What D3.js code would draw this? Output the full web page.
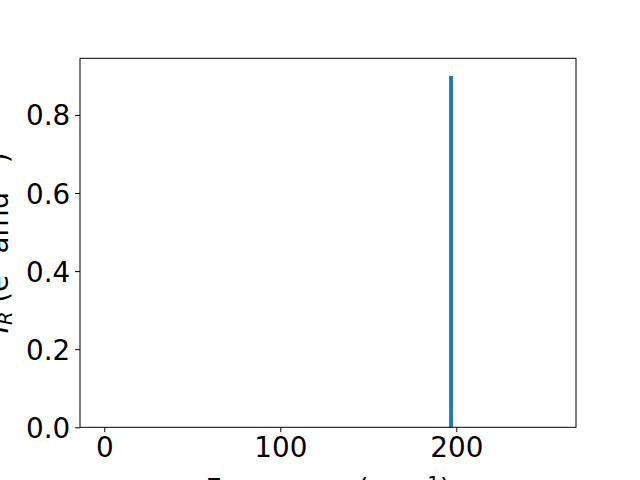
<!DOCTYPE html>
<html>
<head>
<meta charset="utf-8">
<script src="https://cdn.jsdelivr.net/npm/d3@7"></script>
<style>
  html, body { margin: 0; padding: 0; background: #fff; }
  svg text { font-family: "DejaVu Sans", sans-serif; }
</style>
</head>
<body>
<div id="chart"></div>
<script>
// data
const frequencies = [197];
const intensities = [0.9];
const barWidth = 2.2;
const xTicks = [0, 100, 200];
const yTicks = [0.0, 0.2, 0.4, 0.6, 0.8];
const xLimits = [-13.8, 268];
const yLimits = [0, 0.945];

const width = 640, height = 480;
const margin = { left: 80, right: 64, top: 58.3, bottom: 52.7 };
const fontSize = 27.8;

const svg = d3.select('#chart').append('svg')
  .attr('width', width)
  .attr('height', height)
  .attr('viewBox', [0, 0, width, height]);

const x = d3.scaleLinear().domain(xLimits).range([margin.left, width - margin.right]);
const y = d3.scaleLinear().domain(yLimits).range([height - margin.bottom, margin.top]);

// ------------------------------------------------------------------ BARS
svg.append('g')
  .selectAll('rect')
  .data(frequencies.map((f, i) => ({ f, v: intensities[i] })))
  .join('rect')
  .attr('x', d => x(d.f - barWidth / 2))
  .attr('width', d => x(d.f + barWidth / 2) - x(d.f - barWidth / 2))
  .attr('y', d => y(d.v))
  .attr('height', d => y(0) - y(d.v))
  .attr('fill', '#1f77b4');

// ------------------------------------------------------------------ AXES
const xAxis = svg.append('g')
  .attr('transform', `translate(0,${height - margin.bottom})`)
  .call(d3.axisBottom(x).tickValues(xTicks).tickFormat(d3.format('d'))
    .tickSize(4.9).tickPadding(4.9));

const yAxis = svg.append('g')
  .attr('transform', `translate(${margin.left},0)`)
  .call(d3.axisLeft(y).tickValues(yTicks).tickFormat(d3.format('.1f'))
    .tickSize(4.9).tickPadding(4.9));

[xAxis, yAxis].forEach(g => {
  g.select('.domain').remove();
  g.selectAll('line').attr('stroke', '#000').attr('stroke-width', 1);
  g.selectAll('text')
    .attr('fill', '#000')
    .style('font-family', '"DejaVu Sans", sans-serif')
    .style('font-size', fontSize + 'px');
});
xAxis.selectAll('text').attr('dy', '0.73em');
yAxis.selectAll('text').attr('dy', '0.36em');

// frame
svg.append('rect')
  .attr('x', margin.left)
  .attr('y', margin.top)
  .attr('width', width - margin.left - margin.right)
  .attr('height', height - margin.top - margin.bottom)
  .attr('fill', 'none')
  .attr('stroke', '#000')
  .attr('stroke-width', 1);

// ------------------------------------------------------------------ LABELS
const xl = svg.append('text')
  .attr('x', (margin.left + width - margin.right) / 2)
  .attr('y', 498.5)
  .attr('text-anchor', 'middle')
  .style('font-size', fontSize + 'px');
xl.append('tspan').text('Frequency (cm');
xl.append('tspan').attr('baseline-shift', '45%').style('font-size', '70%').text('\u22121');
xl.append('tspan').text(')');

const yl = svg.append('text')
  .attr('transform', `translate(8,${(margin.top + height - margin.bottom) / 2}) rotate(-90)`)
  .attr('text-anchor', 'middle')
  .style('font-size', fontSize + 'px');
yl.append('tspan').style('font-style', 'italic').text('I');
yl.append('tspan').style('font-style', 'italic').attr('baseline-shift', '-20%').style('font-size', '70%').text('R');
yl.append('tspan').text(' (e');
yl.append('tspan').attr('baseline-shift', '45%').style('font-size', '70%').text('2');
yl.append('tspan').text(' amu');
yl.append('tspan').attr('baseline-shift', '45%').style('font-size', '70%').text('\u22121');
yl.append('tspan').text(')');
</script>
</body>
</html>
